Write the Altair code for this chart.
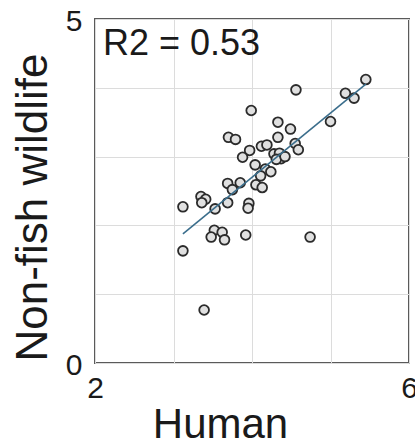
import altair as alt
import pandas as pd

# Human vs. non-fish wildlife scores, one point per site
human = [5.45, 5.19, 5.30, 4.56, 5.00, 3.99, 4.33, 4.49, 3.70, 3.79,
         4.33, 4.12, 4.19, 4.55, 4.59, 3.97, 3.88, 4.28, 4.35, 4.37,
         4.31, 4.42, 4.04, 4.17, 4.24, 4.11, 4.05, 4.13, 3.69, 3.85,
         3.75, 3.35, 3.41, 3.36, 3.12, 3.53, 3.69, 3.96, 3.95, 3.52,
         3.62, 3.48, 3.65, 3.92, 4.74, 3.12, 3.39]
wildlife = [4.12, 3.92, 3.85, 3.97, 3.51, 3.67, 3.50, 3.40, 3.28, 3.25,
            3.28, 3.15, 3.17, 3.19, 3.10, 3.09, 2.99, 3.04, 3.05, 2.97,
            2.96, 3.00, 2.88, 2.82, 2.78, 2.72, 2.59, 2.55, 2.61, 2.62,
            2.52, 2.42, 2.38, 2.33, 2.27, 2.24, 2.33, 2.32, 2.25, 1.93,
            1.90, 1.83, 1.79, 1.86, 1.83, 1.63, 0.77]
r2_label = ["R2 = 0.53"]

df = pd.DataFrame({"Human": human, "Wildlife": wildlife})
FONT = "Liberation Sans"

x_enc = alt.X(
    "Human:Q",
    scale=alt.Scale(domain=[2, 6], nice=False, zero=False),
    axis=alt.Axis(
        values=[2, 3, 4, 5, 6], format="d",
        labelExpr="datum.value == 2 || datum.value == 6 ? datum.label : ''",
        labelFlush=False, labelFontSize=30, labelColor="#1a1a1a",
        labelPadding=10, ticks=False, domain=False,
        grid=True, gridColor="#dcdcdc", gridWidth=1,
        title="Human", titleFontSize=42, titleFontWeight="normal",
        titleColor="#1a1a1a", titleBaseline="alphabetic", titleAlign="center",
        titleX=125, titleY=74,
    ),
)
y_enc = alt.Y(
    "Wildlife:Q",
    scale=alt.Scale(domain=[0, 5], nice=False),
    axis=alt.Axis(
        values=[0, 1, 2, 3, 4, 5], format="d",
        labelExpr="datum.value == 0 || datum.value == 5 ? datum.label : ''",
        labelFlush=False, labelFontSize=30, labelColor="#1a1a1a",
        labelPadding=13, labelOffset=2, ticks=False, domain=False,
        grid=True, gridColor="#dcdcdc", gridWidth=1,
        title="Non-fish wildlife", titleFontSize=44, titleFontWeight="normal",
        titleColor="#1a1a1a", titleAngle=270, titleBaseline="alphabetic",
        titleAlign="center", titleX=-49, titleY=188,
    ),
)

points = alt.Chart(df).mark_point(
    shape="circle", filled=True, fill="#e0e0e0", stroke="#2b2b2b",
    strokeWidth=1.8, size=95, opacity=1,
).encode(x=x_enc, y=y_enc)

fit = alt.Chart(df).transform_regression(
    "Human", "Wildlife"
).mark_line(color="#3b6e8c", strokeWidth=1.6).encode(
    x=alt.X("Human:Q"), y=alt.Y("Wildlife:Q")
)

label = alt.Chart(pd.DataFrame({"t": r2_label})).mark_text(
    align="left", baseline="alphabetic", fontSize=36, font=FONT, color="#1a1a1a"
).encode(x=alt.value(8), y=alt.value(36), text="t:N")

chart = alt.layer(points, fit, label).properties(
    width=314, height=344,
    autosize=alt.AutoSizeParams(type="none"),
    padding={"left": 95, "top": 19, "right": 6, "bottom": 81},
).configure(font=FONT).configure_view(
    stroke="#5a5a5a", strokeWidth=2, fill="white"
)

chart.save("out.html", embed_options={"renderer": "svg", "actions": False})
